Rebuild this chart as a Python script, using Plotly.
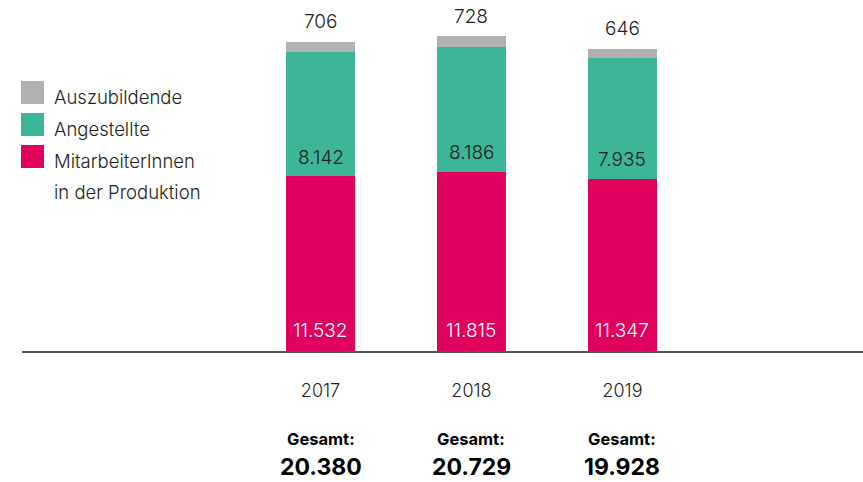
import plotly.graph_objects as go

years = ["2017", "2018", "2019"]
produktion = [11532, 11815, 11347]
angestellte = [8142, 8186, 7935]
azubis = [706, 728, 646]

legend_labels = ["Auszubildende", "Angestellte", "MitarbeiterInnen", "in der Produktion"]
colors = {"prod": "#e0005e", "ang": "#3db598", "azubi": "#b1b1b3"}

FONT = "Inter"
TXT = "#1e1e1e"
LW = 300


def de(v):
    return f"{v:,}".replace(",", ".")


x = list(range(len(years)))
totals = [a + b + c for a, b, c in zip(produktion, angestellte, azubis)]

fig = go.Figure()
for vals, col in [(produktion, colors["prod"]), (angestellte, colors["ang"]), (azubis, colors["azubi"])]:
    fig.add_trace(go.Bar(x=x, y=vals, marker=dict(color=col, line=dict(width=0)),
                         width=0.457, showlegend=False, hoverinfo="skip"))

ann = []
for i in x:
    ann.append(dict(x=i, y=0, xref="x", yref="y", text=de(produktion[i]), showarrow=False,
                    yanchor="middle", yshift=21, font=dict(family=FONT, size=19, color="white", weight=LW)))
    ann.append(dict(x=i, y=produktion[i], xref="x", yref="y", text=de(angestellte[i]), showarrow=False,
                    yanchor="middle", yshift=19, font=dict(family=FONT, size=19, color=TXT, weight=LW)))
    ann.append(dict(x=i, y=totals[i], xref="x", yref="y", text=de(azubis[i]), showarrow=False,
                    yanchor="middle", yshift=20, font=dict(family=FONT, size=19, color=TXT, weight=LW)))
    ann.append(dict(x=i, y=0, xref="x", yref="paper", text="<b>Gesamt:</b>", showarrow=False,
                    yanchor="middle", yshift=-88, font=dict(family=FONT, size=16.5, color="#000")))
    ann.append(dict(x=i, y=0, xref="x", yref="paper", text="<b>" + de(totals[i]) + "</b>", showarrow=False,
                    yanchor="middle", yshift=-116, font=dict(family=FONT, size=23, color="#000")))

W, H = 863, 482
PLOT_H = 351
L = 22
PW = W - L

shapes = []
for col, yc in [(colors["azubi"], 92.5), (colors["ang"], 124.5), (colors["prod"], 156.5)]:
    shapes.append(dict(type="rect", xref="paper", yref="paper",
                       x0=(21 - L) / PW, x1=(44 - L) / PW,
                       y0=(PLOT_H - (yc + 11.5)) / PLOT_H, y1=(PLOT_H - (yc - 11.5)) / PLOT_H,
                       fillcolor=col, line=dict(width=0)))
for lab, yc in zip(legend_labels, [97, 129, 161, 192]):
    ann.append(dict(x=(52 - L) / PW, y=(PLOT_H - yc) / PLOT_H, xref="paper", yref="paper",
                    text=lab, showarrow=False, xanchor="left", yanchor="middle", align="left",
                    font=dict(family=FONT, size=18.5, color=TXT, weight=LW)))

scale = 175 / 11532.0
fig.update_layout(
    width=W, height=H, margin=dict(l=L, r=0, t=0, b=H - PLOT_H),
    paper_bgcolor="white", plot_bgcolor="white", barmode="stack", bargap=0,
    xaxis=dict(range=[-1.977, 3.593], tickvals=x, ticktext=years, showgrid=False, zeroline=False,
               showline=True, linecolor="#555555", linewidth=2, ticks="outside", ticklen=22,
               tickcolor="rgba(0,0,0,0)", tickfont=dict(family=FONT, size=18, color=TXT, weight=LW),
               fixedrange=True),
    yaxis=dict(range=[0, PLOT_H / scale], visible=False, fixedrange=True),
    annotations=ann, shapes=shapes, showlegend=False,
)
fig.write_html("out.html", config={"displayModeBar": False},
               post_script="document.body.style.margin='0';document.body.style.padding='0';")
